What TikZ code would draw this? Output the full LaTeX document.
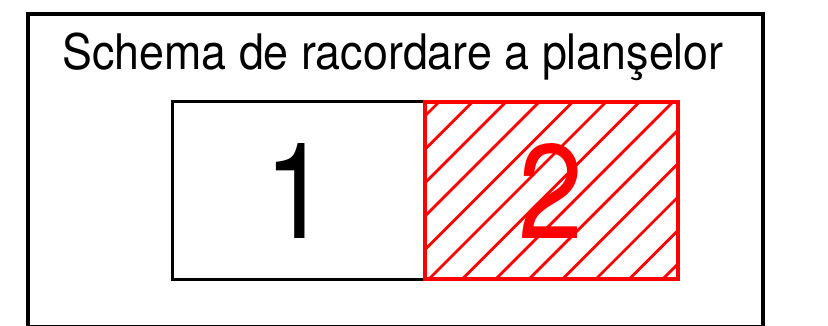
\documentclass[tikz,border=0pt]{standalone}
\usepackage{fontspec}
\setmainfont{TeX Gyre Heros}
\definecolor{hatchred}{RGB}{255,0,0}
\tikzset{
  framebox/.style={draw=black, line width=3.5pt},
  sheetone/.style={draw=black, line width=3pt},
  sheettwo/.style={draw=hatchred, line width=3.5pt},
  hatchline/.style={draw=hatchred, line width=2.8pt},
  titletext/.style={anchor=base, inner sep=0pt, font=\fontsize{49}{49}\selectfont},
  bignum/.style={anchor=base, inner sep=0pt, font=\fontsize{134}{134}\selectfont}
}
\begin{document}
\begin{tikzpicture}[x=1pt,y=-1pt]
\useasboundingbox (0,0) rectangle (828,326);
% outer frame
\draw[framebox] (28,14) rectangle (763,327);
% title
\node[titletext] (title) at (393,70) {\scalebox{0.914}[1]{Schema de racordare a planşelor}};
% sheet 1
\coordinate (s1nw) at (172,102);
\coordinate (s1se) at (425,279);
\draw[sheetone] (s1nw) rectangle (s1se);
% sheet 2 hatch
\coordinate (s2nw) at (425,102);
\coordinate (s2se) at (678,279);
\begin{scope}
  \clip (s2nw) rectangle (s2se);
  \foreach \k in {0,...,13} {
    \draw[hatchline] ({541+33.4*\k-320},320) -- ({541+33.4*\k-80},80);
  }
\end{scope}
\draw[sheettwo] (s2nw) rectangle (s2se);
% numbers
\node[bignum] (n1) at (297,238) {\scalebox{0.87}[1]{1}};
\node[bignum, text=hatchred] (n2) at (551,238) {\scalebox{0.87}[1]{2}};
\end{tikzpicture}
\end{document}
